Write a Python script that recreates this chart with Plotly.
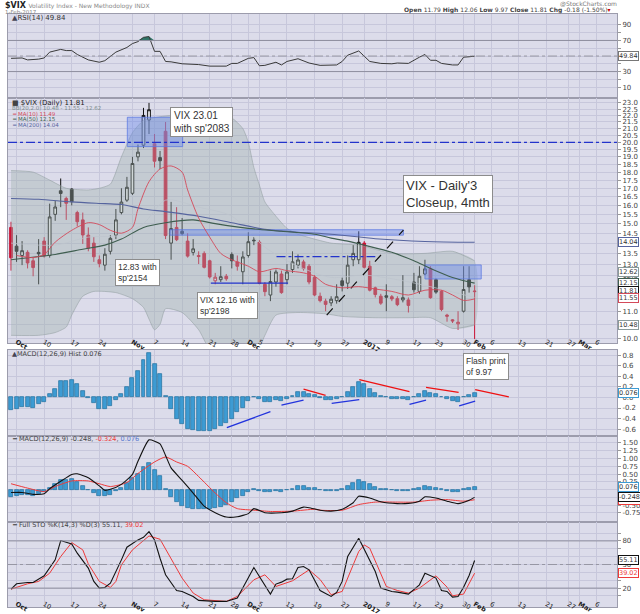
import math
import pandas as pd
import plotly.graph_objects as go

# ---------------- data ----------------
holidays = ["2016-11-24", "2016-12-26", "2017-01-02", "2017-01-16", "2017-02-20"]
sessions = pd.bdate_range("2016-09-30", "2017-03-10", freq="C", holidays=holidays)
session_no = {d.strftime("%Y-%m-%d"): n for n, d in enumerate(sessions)}

tick_dates = ["2016-10-03", "2016-10-10", "2016-10-17", "2016-10-24", "2016-11-01", "2016-11-07",
              "2016-11-14", "2016-11-21", "2016-11-28", "2016-12-01", "2016-12-05", "2016-12-12",
              "2016-12-19", "2016-12-27", "2017-01-03", "2017-01-09", "2017-01-17", "2017-01-23",
              "2017-01-30", "2017-02-01", "2017-02-06", "2017-02-13", "2017-02-21", "2017-02-27",
              "2017-03-01", "2017-03-06"]
tick_labels = ["<b>Oct</b>", "10", "17", "24", "<b>Nov</b>", "7", "14", "21", "28", "<b>Dec</b>", "5", "12",
               "19", "27", "<b>2017</b>", "9", "17", "23", "30", "<b>Feb</b>", "6", "13", "21", "27",
               "<b>Mar</b>", "6"]

price_ticks = [10.0, 10.5, 11.0, 11.5, 12.0, 12.5, 13.0, 13.5, 14.0, 14.5, 15.0, 15.5, 16.0, 16.5,
               17.0, 17.5, 18.0, 18.5, 19.0, 19.5, 20.0, 20.5, 21.0, 21.5, 22.0, 22.5, 23.0]
osc_ticks = [10, 20, 30, 40, 50, 60, 70, 80, 90]
rsi_tick_text = ["10", "", "30", "", "", "", "70", "", "90"]
sto_tick_text = ["", "20", "", "", "50", "", "", "80", ""]
hist_ticks = [-0.6, -0.4, -0.2, 0.0, 0.2, 0.4, 0.6, 0.8]
hist_tick_text = ["-0.6", "-0.4", "-0.2", "0.0", "0.2", "0.4", "0.6", "0.8"]
macd_ticks = [-0.75, -0.5, -0.25, 0.0, 0.25, 0.5, 0.75, 1.0, 1.25, 1.5]
macd_tick_text = ["-0.75", "-0.50", "-0.25", "0.00", "0.25", "0.50", "0.75", "1.00", "1.25", "1.50"]

opens = [14.8, 13.85, 13.4, 13.55, 13.15, 13.55, 14.1, 13.4, 15.5, 16.85, 16.4, 16.95, 15.6, 15.2, 14.4,
         14.0, 13.2, 12.95, 13.6, 14.4, 15.6, 16.3, 16.7, 19.0, 19.8, 21.65, 19.9, 18.95, 20.8, 14.0,
         14.8, 14.6, 14.1, 13.55, 13.4, 13.5, 13.15, 12.25, 12.3, 12.45, 13.45, 13.1, 12.65, 13.4, 14.15,
         14.05, 12.1, 11.65, 12.2, 12.55, 12.3, 12.75, 12.95, 13.1, 12.9, 12.4, 11.6, 11.4, 11.33, 11.42,
         12.25, 12.15, 13.2, 13.2, 14.0, 12.9, 11.95, 11.6, 11.62, 11.58, 11.5, 11.45, 11.45, 12.2, 11.8,
         12.55, 12.8, 12.3, 11.8, 10.85, 10.67, 10.52, 11.0, 12.3, 11.79]
highs = [15.1, 14.4, 14.1, 13.65, 13.3, 14.2, 14.3, 16.1, 16.25, 17.6, 16.5, 17.0, 15.7, 15.6, 14.8,
         14.3, 13.4, 13.75, 14.4, 15.8, 17.0, 17.7, 19.0, 19.85, 22.6, 23.0, 20.6, 19.4, 21.5, 16.2,
         15.9, 15.3, 14.5, 14.2, 13.6, 13.6, 13.2, 12.6, 12.9, 12.55, 13.55, 13.4, 13.6, 14.55, 14.3,
         14.15, 12.2, 12.7, 12.75, 12.7, 13.0, 13.6, 13.45, 13.2, 13.0, 12.5, 11.75, 11.5, 11.6, 12.1,
         12.4, 13.4, 13.9, 14.6, 14.1, 13.15, 12.0, 11.7, 12.1, 11.65, 11.6, 12.5, 11.55, 12.6, 12.9,
         13.2, 12.9, 12.35, 11.85, 10.9, 10.7, 11.0, 12.9, 12.9, 12.06]
lows = [12.7, 13.1, 12.95, 12.8, 12.45, 12.1, 13.3, 13.3, 15.15, 15.9, 15.2, 16.0, 14.85, 13.96, 13.6,
        13.1, 12.85, 12.7, 13.45, 14.2, 15.5, 16.2, 16.6, 18.7, 19.6, 20.6, 18.3, 18.2, 14.2, 13.2,
        14.1, 14.4, 13.3, 13.4, 13.0, 12.8, 12.35, 12.1, 12.2, 12.25, 12.8, 12.7, 12.1, 13.3, 13.9,
        12.1, 11.6, 11.4, 12.0, 11.7, 12.1, 12.6, 12.8, 12.7, 12.1, 11.6, 11.35, 11.0, 11.2, 11.3,
        11.8, 11.9, 12.9, 13.0, 12.8, 11.8, 11.55, 11.25, 11.0, 11.4, 11.2, 11.35, 10.95, 11.75, 11.7,
        12.5, 11.5, 11.7, 11.0, 10.6, 10.55, 10.3, 10.95, 11.75, 9.97]
closes = [13.29, 13.6, 13.63, 13.05, 12.84, 13.48, 13.38, 15.36, 15.91, 16.69, 16.12, 16.21, 15.1, 14.41,
          13.75, 13.34, 13.02, 13.46, 14.24, 15.2, 16.19, 17.06, 18.56, 19.32, 22.0, 22.45, 18.71, 18.74,
          14.38, 14.74, 14.17, 14.48, 13.37, 13.72, 13.35, 12.85, 12.42, 12.41, 12.43, 12.34, 13.15, 12.9,
          13.33, 14.07, 14.12, 12.14, 11.79, 12.22, 12.64, 11.75, 12.64, 13.1, 13.19, 12.79, 12.2, 11.65,
          11.42, 11.27, 11.48, 11.58, 12.05, 12.95, 13.5, 14.04, 12.85, 11.85, 11.67, 11.32, 11.56, 11.49,
          11.26, 11.54, 11.23, 11.87, 12.45, 12.78, 11.54, 11.77, 11.07, 10.81, 10.63, 10.58, 11.88, 11.99,
          11.81]

ma10_days = [1, 4, 6, 8, 11, 14, 16, 18, 20, 22, 23, 25, 27, 29, 31, 32, 34, 36, 38, 40, 43, 45, 48, 50,
             53, 55, 57, 60, 63, 66, 69, 72, 75, 78, 80, 82, 84]
ma10 = [13.4, 13.3, 13.45, 14.05, 14.65, 15.05, 14.95, 14.65, 14.5, 14.8, 15.8, 17.4, 18.2, 18.4, 18.0,
        16.9, 15.3, 14.3, 13.5, 13.2, 12.9, 12.65, 12.8, 12.7, 12.6, 12.45, 12.1, 11.95, 12.0, 11.9, 11.8,
        11.65, 11.85, 11.85, 11.65, 11.43, 11.49]
ma50_days = [0, 5, 8, 13, 17, 20, 24, 28, 33, 37, 43, 49, 55, 58, 61, 64, 69, 73, 76, 80, 84]
ma50 = [13.2, 13.35, 13.45, 13.7, 13.9, 14.2, 14.8, 15.05, 15.2, 15.0, 14.75, 14.6, 14.45, 14.25, 14.1,
        13.9, 13.55, 13.15, 12.8, 12.4, 12.15]
ma200_days = [0, 5, 11, 17, 20, 24, 28, 34, 40, 46, 52, 58, 66, 75, 84]
ma200 = [16.4, 16.35, 16.2, 16.1, 16.05, 15.8, 15.65, 15.4, 15.05, 14.7, 14.55, 14.45, 14.22, 14.08, 14.04]

bb_up_days = [0, 4, 7, 10, 14, 16, 18, 20, 22, 24, 27, 32, 37, 40, 42, 43, 44, 45, 46, 48, 50, 52, 55,
              58, 63, 69, 75, 80, 84]
bb_upper = [18.1, 18.0, 17.5, 17.0, 16.9, 17.0, 17.25, 19.0, 20.7, 21.6, 21.9, 22.1, 22.0, 21.8, 21.0,
            20.0, 18.3, 17.2, 16.2, 15.4, 14.75, 14.45, 14.2, 14.0, 13.9, 13.5, 13.5, 13.6, 13.15]
bb_lo_days = [0, 5, 8, 10, 11, 13, 15, 19, 22, 24, 25, 26, 27, 28, 31, 34, 36, 40, 44, 46, 48, 52, 57,
              60, 66, 72, 76, 80, 84]
bb_lower = [10.1, 10.1, 10.2, 10.4, 10.85, 11.6, 11.8, 11.75, 11.5, 11.15, 10.7, 10.3, 10.5, 11.1, 10.95,
            10.3, 9.6, 9.0, 9.3, 10.1, 10.85, 10.95, 10.9, 10.8, 10.75, 10.75, 10.75, 10.35, 10.48]
bb_mid_days = [0, 8, 14, 20, 24, 28, 34, 40, 46, 52, 58, 64, 70, 76, 84]
bb_mid = [14.0, 13.9, 14.3, 14.4, 15.0, 16.3, 15.9, 15.4, 13.8, 12.9, 12.4, 12.5, 12.3, 12.0, 11.55]

rsi_days = [0, 2, 3, 5, 6, 7, 9, 10, 11, 12, 14, 16, 17, 19, 21, 22, 23, 24, 25, 26, 27, 28, 29, 31, 34,
            36, 39, 40, 41, 43, 44, 45, 46, 48, 49, 50, 52, 54, 56, 59, 60, 61, 63, 65, 67, 69, 70, 72,
            74, 75, 76, 77, 78, 80, 81, 82, 83, 84]
rsi = [47, 47.5, 45, 46, 47.5, 55, 58.5, 57, 57, 52, 45, 42, 44, 55, 61, 66, 68.5, 74, 75, 56, 56, 43,
       42.5, 40, 39, 37, 37, 40.5, 40.5, 47, 48, 37.5, 38, 42, 38.5, 43, 46.5, 41, 38, 38.5, 43, 51, 56.5,
       43, 40.5, 40, 41, 40.5, 48.5, 52, 44.5, 44.5, 40.5, 38.5, 38.5, 48.5, 49, 49.84]

hist = [-0.24, -0.21, -0.18, -0.18, -0.19, -0.13, -0.09, 0.06, 0.17, 0.31,
        0.32, 0.33, 0.25, 0.13, -0.01, -0.11, -0.21, -0.21, -0.16, -0.05,
        0.07, 0.20, 0.36, 0.50, 0.72, 0.85, 0.63, 0.45, 0.03, -0.22,
        -0.41, -0.51, -0.60, -0.62, -0.63, -0.63, -0.63, -0.60, -0.55, -0.49,
        -0.40, -0.28, -0.20, -0.07, 0.01, -0.03, -0.08, -0.08, -0.05, -0.06,
        -0.02, 0.03, 0.11, 0.11, 0.07, 0.04, -0.01, -0.04, -0.04, -0.03,
        0.01, 0.11, 0.20, 0.30, 0.26, 0.17, 0.09, 0.03, 0.01, -0.02,
        -0.03, -0.03, -0.04, 0.01, 0.07, 0.13, 0.09, 0.07, 0.01, -0.03,
        -0.06, -0.08, 0.01, 0.04, 0.076]
macd_days = [0, 2, 4, 6, 7, 9, 11, 12, 14, 16, 17, 18, 20, 22, 23, 25, 27, 28, 29, 31, 33, 35, 37, 39,
             41, 43, 44, 46, 49, 51, 53, 54, 56, 58, 60, 62, 63, 65, 67, 70, 72, 74, 75, 77, 79, 81, 83, 84]
macd = [-0.09, -0.09, -0.15, -0.13, 0.03, 0.27, 0.49, 0.51, 0.38, 0.12, -0.02, 0.01, 0.17, 0.49, 0.91,
        1.60, 1.47, 1.1, 0.7, 0.3, -0.11, -0.53, -0.74, -0.88, -0.87, -0.77, -0.61, -0.74, -0.74, -0.69,
        -0.56, -0.58, -0.66, -0.69, -0.63, -0.42, -0.21, -0.27, -0.39, -0.45, -0.44, -0.37, -0.23, -0.27,
        -0.37, -0.45, -0.34, -0.248]
signal_days = [0, 3, 6, 8, 11, 14, 16, 18, 21, 23, 26, 28, 30, 32, 34, 37, 39, 41, 44, 47, 51, 55, 56,
               60, 63, 66, 70, 73, 76, 79, 82, 84]
signal = [0.19, 0.05, -0.06, 0.10, 0.28, 0.28, 0.19, 0.10, 0.23, 0.52, 0.89, 1.05, 0.89, 0.75, 0.42,
          -0.11, -0.42, -0.61, -0.66, -0.70, -0.69, -0.63, -0.66, -0.66, -0.48, -0.40, -0.40, -0.40,
          -0.34, -0.32, -0.37, -0.324]

stok_days = [0, 1, 3, 4, 6, 8, 9, 11, 12, 14, 15, 16, 17, 18, 20, 21, 23, 24, 25, 26, 27, 28, 30, 31,
             33, 34, 37, 39, 41, 42, 44, 45, 47, 48, 49, 50, 51, 52, 53, 54, 56, 58, 59, 60, 61, 63, 64,
             66, 67, 69, 70, 72, 74, 75, 77, 78, 79, 80, 81, 82, 83, 84]
stok = [18.7, 25.5, 27.2, 27.2, 35.6, 55.9, 80.4, 76.2, 64.4, 45.4, 28.5, 20, 20.8, 26.3, 55.9, 72, 81.3,
        84.6, 91.8, 81.3, 58, 37, 17, 15.8, 9.4, 4.4, 3.1, 3.1, 7.3, 20, 46.2, 34.8, 12.4, 25.1, 27.6,
        31.4, 31.8, 46.2, 47.5, 43.2, 17, 9.4, 14.5, 28.5, 60.1, 83.4, 68.6, 41.1, 20, 15.8, 14.9, 12.4,
        24.2, 39, 32.7, 17, 15.8, 8.6, 9.4, 21, 36, 55.11]
stod_days = [0, 3, 5, 7, 9, 11, 13, 14, 16, 18, 19, 20, 22, 25, 27, 29, 31, 33, 35, 39, 41, 44, 46, 48,
             49, 51, 54, 56, 58, 60, 63, 64, 65, 68, 70, 72, 74, 77, 79, 80, 82, 84]
stod = [18.7, 25.5, 28.5, 39, 60.1, 77.9, 68.6, 50.8, 28.5, 20.8, 28.5, 49.6, 68.6, 86.3, 82.1, 58, 32.7,
        13.7, 5.2, 3.1, 9.4, 30.6, 36.9, 22.1, 24.2, 29.3, 43.2, 31, 11.6, 15.8, 66.5, 74.9, 70.7, 22.1,
        17, 13.7, 20, 35.6, 21.3, 10.3, 12.4, 39.02]

# ---------------- styling ----------------
bg = "#dcdcea"
grid = "#c7c7db"
frame = "#9c9cac"
red = "#cc1133"
hollow = "#f1f1f4"
blue_note = "#2233cc"
x_lo, x_hi = -0.55, 109.8

dom_rsi, dom_main, dom_hist, dom_macd, dom_sto = [0.8583, 1.0], [0.4452, 0.8583], [0.2884, 0.4334], [0.1433, 0.2884], [0.0, 0.1433]

def py(pix):
    return (607 - pix) / 593

def px(pix):
    return (pix - 8) / 609

tick_pos = [session_no[d] for d in tick_dates]
x_days = list(range(len(closes)))

fig = go.Figure()

# ---- RSI panel ----
fig.add_trace(go.Scatter(x=rsi_days, y=[70] * len(rsi_days), mode="lines", line=dict(width=0),
                         xaxis="x", yaxis="y", hoverinfo="skip"))
fig.add_trace(go.Scatter(x=rsi_days, y=[max(v, 70) for v in rsi], mode="lines", line=dict(width=0),
                         fill="tonexty", fillcolor="#2f7466", xaxis="x", yaxis="y", hoverinfo="skip"))
fig.add_trace(go.Scatter(x=rsi_days, y=rsi, mode="lines", line=dict(color="#3a3a3a", width=1),
                         xaxis="x", yaxis="y", hoverinfo="skip"))

# ---- price panel ----
band_x = bb_up_days + bb_lo_days[::-1]
band_y = bb_upper + bb_lower[::-1]
fig.add_trace(go.Scatter(x=band_x, y=band_y, mode="lines", fill="toself", fillcolor="rgba(160,178,176,0.40)",
                         line=dict(width=0, shape="spline", smoothing=0.6), xaxis="x2", yaxis="y2", hoverinfo="skip"))
for dd, vv in [(bb_up_days, bb_upper), (bb_lo_days, bb_lower)]:
    fig.add_trace(go.Scatter(x=dd, y=vv, mode="lines", line=dict(color="rgba(145,158,160,0.8)", width=0.7,
                             shape="spline", smoothing=0.6), xaxis="x2", yaxis="y2", hoverinfo="skip"))
fig.add_trace(go.Scatter(x=bb_mid_days, y=bb_mid, mode="lines", line=dict(color="rgba(190,196,205,0.9)", width=0.8,
                         shape="spline", smoothing=0.8), xaxis="x2", yaxis="y2", hoverinfo="skip"))

# note rectangles / lines drawn on the price chart
for (xa, xb, ya, yb) in [(21.07, 31.1, 19.7, 21.86), (28.8, 71.1, 14.4, 14.68), (75.0, 85.2, 12.33, 12.96)]:
    fig.add_trace(go.Scatter(x=[xa, xb, xb, xa, xa], y=[ya, ya, yb, yb, ya], mode="lines", fill="toself",
                             fillcolor="rgba(105,135,235,0.42)", line=dict(color="rgba(90,120,225,0.75)", width=1),
                             xaxis="x2", yaxis="y2", hoverinfo="skip"))
fig.add_trace(go.Scatter(x=[x_lo, x_hi], y=[20.0, 20.0], mode="lines",
                         line=dict(color=blue_note, width=1.3, dash="dashdot"), xaxis="x2", yaxis="y2", hoverinfo="skip"))
fig.add_trace(go.Scatter(x=[48.1, 66.0], y=[13.35, 13.35], mode="lines",
                         line=dict(color=blue_note, width=1.3, dash="dashdot"), xaxis="x2", yaxis="y2", hoverinfo="skip"))
fig.add_trace(go.Scatter(x=[36.2, 50.2], y=[12.15, 12.15], mode="lines",
                         line=dict(color=blue_note, width=1.4), xaxis="x2", yaxis="y2", hoverinfo="skip"))
fig.add_trace(go.Scatter(x=[57.2, 71.1], y=[10.85, 14.66], mode="lines",
                         line=dict(color="#111111", width=1.2, dash="dash"), xaxis="x2", yaxis="y2", hoverinfo="skip"))

for dd, vv, col, w in [(ma200_days, ma200, "#56649e", 1.1), (ma50_days, ma50, "#3f5e50", 1.1),
                       (ma10_days, ma10, "#d44a5a", 0.9)]:
    fig.add_trace(go.Scatter(x=dd, y=vv, mode="lines", line=dict(color=col, width=w, shape="spline", smoothing=0.8),
                             xaxis="x2", yaxis="y2", hoverinfo="skip"))

# candles: black when close above prior close, red when below; hollow when close above open
prev_close = [opens[0]] + closes[:-1]
down_day = [c < p for c, p in zip(closes, prev_close)]

def pick(seq, flag):
    return [v for v, f in zip(seq, down_day) if f == flag]

for flag, col in [(False, "#111111"), (True, red)]:
    fig.add_trace(go.Candlestick(
        x=pick(x_days, flag), open=pick(opens, flag), high=pick(highs, flag),
        low=pick(lows, flag), close=pick(closes, flag),
        increasing=dict(line=dict(color=col, width=1), fillcolor=hollow),
        decreasing=dict(line=dict(color=col, width=1), fillcolor=col),
        whiskerwidth=0, xaxis="x2", yaxis="y2", hoverinfo="skip"))

# ---- MACD histogram panel ----
bar_style = dict(color="#3d9bd3", line=dict(color="#1f6e9e", width=0.7))
fig.add_trace(go.Bar(x=x_days, y=hist, width=0.72, marker=bar_style, xaxis="x3", yaxis="y3", hoverinfo="skip"))
blue_segs = [((39.1, -0.57), (47.0, -0.27)), ((49.0, -0.145), (53.0, -0.05)), ((58.1, -0.11), (63.1, -0.04)),
             ((72.2, -0.13), (75.2, -0.05)), ((81.2, -0.16), (84.1, -0.07))]
red_segs = [((53.0, 0.16), (57.0, 0.04)), ((63.1, 0.34), (72.2, 0.11)), ((75.2, 0.19), (81.1, 0.095)),
            ((84.1, 0.15), (90.2, 0.01))]
for segs, col in [(blue_segs, "#2233dd"), (red_segs, "#ee1111")]:
    sx, sy = [], []
    for a, b in segs:
        sx += [a[0], b[0], None]
        sy += [a[1], b[1], None]
    fig.add_trace(go.Scatter(x=sx, y=sy, mode="lines", line=dict(color=col, width=1.3),
                             xaxis="x3", yaxis="y3", hoverinfo="skip"))

# ---- MACD panel ----
fig.add_trace(go.Bar(x=x_days, y=hist, width=0.72, marker=bar_style, xaxis="x4", yaxis="y4", hoverinfo="skip"))
fig.add_trace(go.Scatter(x=signal_days, y=signal, mode="lines", line=dict(color="#ee3a3a", width=1, shape="spline", smoothing=0.6),
                         xaxis="x4", yaxis="y4", hoverinfo="skip"))
fig.add_trace(go.Scatter(x=macd_days, y=macd, mode="lines", line=dict(color="#111111", width=1.1, shape="spline", smoothing=0.5),
                         xaxis="x4", yaxis="y4", hoverinfo="skip"))

# ---- Full STO panel ----
fig.add_trace(go.Scatter(x=stod_days, y=stod, mode="lines", line=dict(color="#ee3a3a", width=1),
                         xaxis="x5", yaxis="y5", hoverinfo="skip"))
fig.add_trace(go.Scatter(x=stok_days, y=stok, mode="lines", line=dict(color="#111111", width=1.1),
                         xaxis="x5", yaxis="y5", hoverinfo="skip"))

# ---------------- axes ----------------
def xaxis(anchor, labels, standoff=-8):
    return dict(domain=[0, 1], anchor=anchor, range=[x_lo, x_hi], tickvals=tick_pos, ticktext=tick_labels,
                showticklabels=labels, ticks="", showgrid=True, gridcolor=grid, gridwidth=1, zeroline=False,
                showline=True, mirror=True, linecolor=frame, linewidth=1, ticklabelstandoff=standoff,
                tickfont=dict(size=6.5, color="#222"), automargin=False, fixedrange=True)

def yaxis(anchor, domain, **kw):
    d = dict(domain=domain, anchor=anchor, side="right", showgrid=True, gridcolor=grid, gridwidth=1,
             zeroline=False, showline=True, mirror=True, linecolor=frame, linewidth=1, ticks="outside",
             ticklen=3, tickcolor="#999", tickfont=dict(size=7, color="#444"), automargin=False, fixedrange=True)
    d.update(kw)
    return d

layout_axes = dict(
    xaxis=xaxis("y", False),
    xaxis2=dict(xaxis("y2", True), rangeslider=dict(visible=False)),
    xaxis3=xaxis("y3", False),
    xaxis4=xaxis("y4", False),
    xaxis5=xaxis("y5", True, standoff=-10),
    yaxis=yaxis("x", dom_rsi, range=[-4, 104], tickvals=osc_ticks, ticktext=rsi_tick_text),
    yaxis2=yaxis("x2", dom_main, type="log", range=[math.log10(9.83), math.log10(23.4)],
                 tickvals=price_ticks, ticktext=["%.1f" % v for v in price_ticks]),
    yaxis3=yaxis("x3", dom_hist, range=[-0.73, 0.9], tickvals=hist_ticks, ticktext=hist_tick_text),
    yaxis4=yaxis("x4", dom_macd, range=[-1.04, 1.725], tickvals=macd_ticks, ticktext=macd_tick_text),
    yaxis5=yaxis("x5", dom_sto, range=[-4, 104], tickvals=osc_ticks, ticktext=sto_tick_text),
)

shapes = []
for yref, lvl in [("y", 70), ("y", 30), ("y5", 80), ("y5", 20)]:
    shapes.append(dict(type="line", xref="paper", x0=0, x1=1, yref=yref, y0=lvl, y1=lvl,
                       line=dict(color="#8e8e9e", width=1)))
for yref in ["y", "y5"]:
    shapes.append(dict(type="line", xref="paper", x0=0, x1=1, yref=yref, y0=50, y1=50,
                       line=dict(color="#8a8a96", width=0.8, dash="dashdot")))

# ---------------- text ----------------
ann = []

def txt(x, y, text, size=7, color="#333", xanchor="left", yanchor="middle", **kw):
    ann.append(dict(xref="paper", yref="paper", x=x, y=y, text=text, showarrow=False, xanchor=xanchor,
                    yanchor=yanchor, font=dict(size=size, color=color), **kw))

txt(px(3), py(5), "<b>$VIX</b> <span style='color:#8a8a8a;font-size:6px'>Volatility Index - New Methodology INDX</span>", size=8, color="#222")
txt(px(3), py(12), "1-Feb-2017", size=5.5, color="#888")
txt(px(619), py(4), "@StockCharts.com", size=6, color="#777", xanchor="right")
txt(px(613), py(10.5), "<b>Open</b> 11.79 <b>High</b> 12.06 <b>Low</b> 9.97 <b>Close</b> 11.81 <b>Chg</b> -0.18 (-1.50%)"
    "<span style='color:#cc0000'>▾</span>", size=6, color="#444", xanchor="right")

txt(px(10), py(18), "<span style='color:#445'>▲</span>RSI(14) 49.84", size=7, color="#333")
txt(px(10), py(103), "<span style='color:#444'>■</span> $VIX (Daily) 11.81", size=7, color="#222")
txt(px(10), py(108.5), "BB(20,2.0) 10.48 - 11.55 - 12.62", size=5.5, color="#7e8e8e")
txt(px(10), py(114), "<span style='color:#d44a5a'>━</span> MA(10) 11.49", size=5.5, color="#d44a5a")
txt(px(10), py(119.5), "<span style='color:#3f5e50'>━</span> MA(50) 12.15", size=5.5, color="#3f5e50")
txt(px(10), py(125), "<span style='color:#56649e'>━</span> MA(200) 14.04", size=5.5, color="#56649e")
txt(px(10), py(354), "<span style='color:#445'>▲</span>MACD(12,26,9) Hist 0.076", size=6.5, color="#444")
txt(px(10), py(439), "━ MACD(12,26,9) -0.248, <span style='color:#ee3a3a'>-0.324</span>, "
    "<span style='color:#5a7ad0'>0.076</span>", size=6.5, color="#444")
txt(px(10), py(525), "━ Full STO %K(14,3) %D(3) 55.11, <span style='color:#ee3a3a'>39.02</span>", size=6.5, color="#444")

# notes
note_font = dict(family="Liberation Sans, Arial", color="#333")

def note(x, y, yref, text, size):
    ann.append(dict(xref="x2" if yref == "y2" else "x3", yref=yref, x=x, y=y, text=text, showarrow=False,
                    xanchor="left", yanchor="top", align="left", bgcolor="white", bordercolor="#8c8c8c",
                    borderwidth=1, borderpad=2, font=dict(note_font, size=size)))

note(28.8, math.log10(22.7), "y2", "VIX 23.01<br>with sp'2083", 10)
note(18.8, math.log10(13.24), "y2", "12.83 with<br>sp'2154", 8.5)
note(33.7, math.log10(11.78), "y2", "VIX 12.16 with<br>sp'2198", 8.5)
note(71.0, math.log10(17.82), "y2", "VIX - Daily'3<br>Closeup, 4mth", 13)
note(81.9, 0.85, "y3", "Flash print<br>of 9.97", 8.5)

# last-value tags on the right scale
def tag(yref, y, text, border="#777", color="#333"):
    ann.append(dict(xref="paper", yref=yref, x=1.0, y=y, text=text, showarrow=False, xanchor="left",
                    yanchor="middle", xshift=1, bgcolor="white", bordercolor=border, borderwidth=1, borderpad=0,
                    font=dict(size=6.5, color=color)))

tag("y", 49.84, "49.84")
for v, lab, col in [(14.04, "14.04", "#56649e"), (12.62, "12.62", "#8a9a9a"), (12.15, "12.15", "#3f5e50"),
                    (11.81, "11.81", "#111111"), (11.52, "11.55", "#d44a5a"), (10.48, "10.48", "#8a9a9a")]:
    tag("y2", math.log10(v), lab, border=col)
tag("y3", 0.076, "0.076", border="#3d9bd3")
tag("y4", 0.076, "0.076", border="#3d9bd3")
tag("y4", -0.324, "-0.324", border="#ee3a3a", color="#ee3a3a")
tag("y4", -0.248, "-0.248", border="#111111")
tag("y5", 39.02, "39.02", border="#ee3a3a", color="#ee3a3a")
tag("y5", 55.11, "55.11", border="#111111")

fig.update_layout(
    width=640, height=614,
    margin=dict(l=8, r=23, t=14, b=7),
    paper_bgcolor="white", plot_bgcolor=bg,
    font=dict(family="DejaVu Sans", size=7, color="#333"),
    showlegend=False, barmode="overlay", bargap=0,
    shapes=shapes, annotations=ann,
    **layout_axes,
)

# the page body has a default 8px margin; drop it so the figure sits at the window's top-left corner
fig.write_html("out.html", config={"displayModeBar": False},
               post_script="document.body.style.margin='0px';")
